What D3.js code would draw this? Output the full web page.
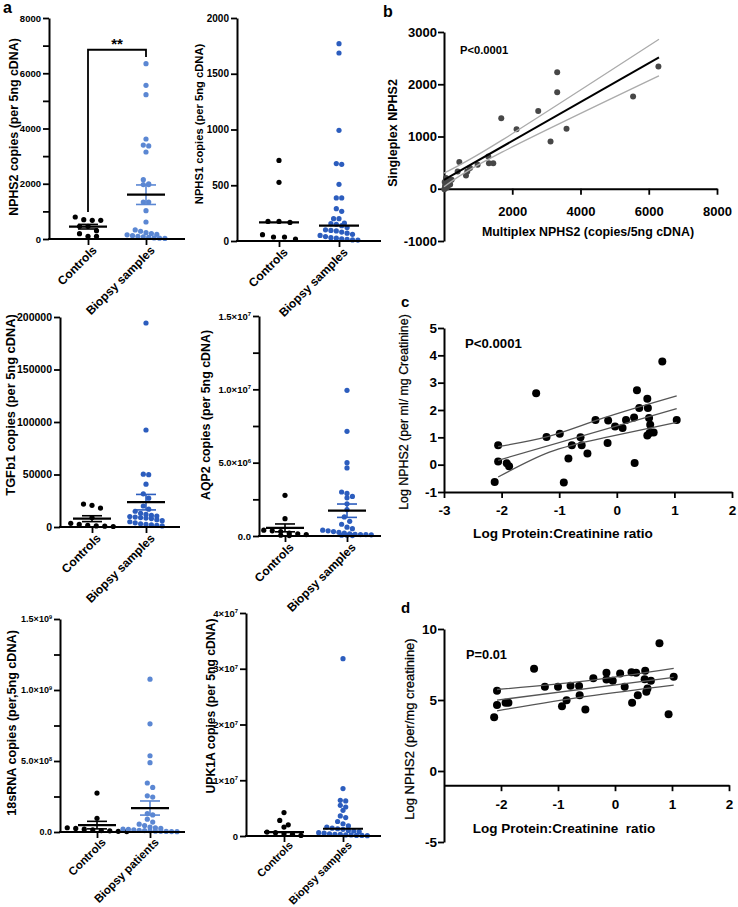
<!DOCTYPE html>
<html><head><meta charset="utf-8">
<script src="https://cdn.jsdelivr.net/npm/d3@7/dist/d3.min.js"></script>
<style>html,body{margin:0;padding:0;background:#fff;}svg{display:block;}</style>
</head><body>
<svg id="fig" width="738" height="907"></svg>
<script>
// ---------------- DATA ----------------
const groupLabels = ["Controls", "Biopsy samples"];
const groupLabels18s = ["Controls", "Biopsy patients"];

const nphs2Controls = [796, 676, 676, 700, 458, 458, 302, 193, 97, 97];
const nphs2Biopsy = [6347, 5563, 5225, 3620, 3400, 3370, 3150, 2148, 2000, 1970, 1970, 1340, 1340, 1025, 615, 330, 280, 230, 200, 170, 150, 120, 100, 80, 60, 40, 30, 20];
const nphs2Ticks = [0, 1000, 2000, 3000, 4000, 5000, 6000, 7000, 8000];
const nphs2Labels = [0, 2000, 4000, 6000, 8000];
const nphs2Bracket = [6850, 980, 6590]; // top, left end, right end
const nphs2Sig = "**";

const nphs1Controls = [723, 526, 176, 176, 167, 57, 36, 36, 18];
const nphs1Biopsy = [1770, 1686, 993, 694, 688, 508, 386, 386, 290, 266, 200, 200, 160, 155, 150, 137, 120, 100, 95, 90, 80, 70, 60, 50, 40, 30, 25, 20, 15, 10, 8];
const nphs1Ticks = [0, 500, 1000, 1500, 2000];

const tgfb1Controls = [21800, 20600, 18000, 9000, 3500, 2500, 1500, 1000, 800, 500];
const tgfb1Biopsy = [194300, 92400, 50300, 49800, 40800, 31600, 27500, 20000, 17000, 15000, 13000, 12000, 11000, 10500, 10000, 9500, 9000, 8500, 8000, 7000, 6000, 5000, 4000, 3000, 2500, 2000, 1500, 1000];
const tgfb1Ticks = [0, 50000, 100000, 150000, 200000];

const aqp2Controls = [2.77e6, 1.18e6, 0.4e6, 0.35e6, 0.3e6, 0.2e6, 0.15e6, 0.1e6, 0.05e6, 0.03e6];
const aqp2Biopsy = [9.93e6, 7.14e6, 5.0e6, 4.64e6, 3.0e6, 2.9e6, 2.7e6, 2.6e6, 2.2e6, 1.8e6, 1.3e6, 1.0e6, 0.8e6, 0.6e6, 0.5e6, 0.4e6, 0.35e6, 0.3e6, 0.25e6, 0.2e6, 0.15e6, 0.12e6, 0.1e6, 0.1e6, 0.08e6, 0.05e6, 0.05e6, 0.03e6];
const aqp2Ticks = [0, 2.5e6, 5e6, 7.5e6, 1e7, 1.25e7, 1.5e7];
const aqp2Labels = [0, 5e6, 1e7, 1.5e7];

const rna18sControls = [2.74e8, 0.96e8, 0.3e8, 0.25e8, 0.2e8, 0.15e8, 0.1e8, 0.08e8, 0.05e8, 0.03e8];
const rna18sBiopsy = [1.076e9, 7.62e8, 5.37e8, 4.88e8, 3.45e8, 3.14e8, 2.55e8, 2.46e8, 1.3e8, 1.2e8, 0.9e8, 0.7e8, 0.55e8, 0.45e8, 0.35e8, 0.3e8, 0.25e8, 0.2e8, 0.18e8, 0.15e8, 0.12e8, 0.1e8, 0.08e8, 0.06e8, 0.05e8, 0.04e8, 0.03e8, 0.02e8];
const rna18sTicks = [0, 2.5e8, 5e8, 7.5e8, 1e9, 1.25e9, 1.5e9];
const rna18sLabels = [0, 5e8, 1e9, 1.5e9];

const upk1aControls = [4.2e6, 2.8e6, 2.0e6, 1.6e6, 0.7e6, 0.6e6, 0.4e6, 0.3e6, 0.1e6];
const upk1aBiopsy = [3.18e7, 8.5e6, 6.4e6, 6.3e6, 5.5e6, 5.2e6, 4.6e6, 3.6e6, 3.3e6, 2.6e6, 2.2e6, 1.8e6, 1.6e6, 1.4e6, 1.3e6, 1.2e6, 1.0e6, 0.9e6, 0.8e6, 0.6e6, 0.5e6, 0.4e6, 0.3e6, 0.3e6, 0.2e6, 0.2e6, 0.1e6, 0.1e6, 0.05e6];
const upk1aTicks = [0, 1e7, 2e7, 3e7, 4e7];

// Panel b
const bMultiplex = [6283, 5541, 3590, 3317, 3317, 3122, 2761, 2127, 1678, 1444, 1317, 1298, 985, 761, 683, 644, 449, 400, 224, 156, 98, 59, 40, 30, 80, 180, 20, 10, 120];
const bSingleplex = [2338, 1764, 1146, 2229, 1847, 904, 1490, 1140, 1350, 490, 490, 618, 459, 395, 331, 255, 510, 331, 172, 140, 108, 204, 76, 45, 20, 80, 130, -10, 60];
const bFit = [[0, 170], [6300, 2516]];
const bUpper = [[0, 300], [1700, 930], [6300, 2860]];
const bLower = [[0, 40], [1700, 700], [6300, 2160]];
const bTicksX = [2000, 4000, 6000, 8000];
const bTicksY = [-1000, 0, 1000, 2000, 3000];

// Panel c
const cLogPCR = [-2.12, -2.06, -2.06, -1.91, -1.87, -1.40, -1.22, -0.99, -0.92, -0.84, -0.78, -0.63, -0.61, -0.51, -0.37, -0.15, -0.16, -0.03, 0.10, 0.16, 0.30, 0.35, 0.31, 0.39, 0.53, 0.54, 0.56, 0.58, 0.53, 0.57, 0.64, 0.79, 1.04];
const cLogNPHS2 = [-0.63, 0.71, 0.12, 0.05, -0.06, 2.61, 1.01, 1.13, -0.65, 0.23, 0.71, 1.0, 0.71, 0.41, 1.63, 1.62, 0.79, 1.40, 1.34, 1.63, 1.73, 2.72, 0.06, 2.07, 2.41, 2.07, 1.71, 1.46, 1.07, 1.16, 1.18, 3.77, 1.63];
const cFit = [[-2.06, 0.16], [1.04, 2.05]];
const cUpper = [[-2.06, 0.66], [-1.17, 1.04], [-0.23, 1.71], [1.04, 2.52]];
const cLower = [[-2.06, -0.45], [-1.17, 0.46], [-0.23, 0.98], [1.04, 1.55]];
const cTicksX = [-3, -2, -1, 0, 1, 2];
const cTicksY = [-1, 0, 1, 2, 3, 4, 5];

// Panel d
const dLogPCR = [-2.12, -2.07, -2.07, -1.92, -1.87, -1.42, -1.23, -1.0, -0.93, -0.85, -0.78, -0.63, -0.62, -0.52, -0.38, -0.15, -0.15, -0.04, 0.09, 0.17, 0.30, 0.29, 0.37, 0.40, 0.53, 0.52, 0.55, 0.57, 0.63, 0.78, 0.94, 1.03];
const dLogNPHS2 = [3.79, 5.65, 4.64, 4.8, 4.8, 7.2, 5.93, 5.93, 4.56, 4.99, 6.0, 5.98, 5.34, 4.33, 6.54, 6.92, 6.45, 6.35, 6.87, 5.93, 4.8, 6.96, 6.92, 5.34, 7.06, 6.47, 5.58, 5.81, 6.35, 8.99, 4.0, 6.64];
const dFit = [[-2.07, 4.99], [1.03, 6.59]];
const dUpper = [[-2.07, 5.74], [-0.5, 6.35], [1.03, 7.22]];
const dLower = [[-2.07, 4.24], [-0.5, 5.25], [1.03, 6.05]];
const dTicksX = [-2, -1, 0, 1, 2];
const dTicksY = [-5, 0, 5, 10];

// ---------------- DRAWING ----------------
const svg = d3.select("#fig");
svg.append("rect").attr("width", 738).attr("height", 907).attr("fill", "#fff");
const FONT = "'Liberation Sans', Arial, Helvetica, sans-serif";
const LIGHT = "#5b87d3", DARK = "#2c5dbe";

function txt(x, y, s, o = {}) {
  const t = svg.append("text").attr("x", x).attr("y", y).text(s)
    .attr("font-family", FONT).attr("font-size", o.fs || 12)
    .attr("font-weight", o.fw || "bold").attr("fill", "#000")
    .attr("text-anchor", o.anchor || "start");
  if (o.rot != null) t.attr("transform", `rotate(${o.rot},${x},${y})`);
  if (o.db) t.attr("dominant-baseline", o.db);
  return t;
}

function styleAxis(g, fs) {
  g.attr("font-family", FONT).attr("font-size", fs).attr("font-weight", "bold");
  g.select(".domain").attr("stroke", "#000").attr("stroke-width", 2);
  g.selectAll(".tick line").attr("stroke", "#000").attr("stroke-width", 1.8);
  g.selectAll(".tick text").attr("fill", "#000");
}

function fmtFactory(kind, labeled) {
  const set = new Set(labeled);
  return d => {
    if (!set.has(d)) return null;
    if (kind === "int") return String(d);
    if (d === 0) return kind === "sci1" ? "0.0" : "0";
    const e = Math.floor(Math.log10(d) + 1e-9);
    const m = d / Math.pow(10, e);
    return [(kind === "sci1" ? m.toFixed(1) : String(Math.round(m))) + "×10", String(e)];
  };
}

function writeLabels(sel, fmt) {
  sel.each(function (d) {
    const t = d3.select(this);
    t.text(null);
    const r = fmt(d);
    if (r == null) return;
    if (Array.isArray(r)) {
      t.append("tspan").text(r[0]);
      t.append("tspan").attr("font-size", "0.62em").attr("dy", "-0.6em").text(r[1]);
    } else t.text(r);
  });
}

function swarm(vals, y, cx, sp, dia) {
  const pts = vals.map(v => ({ v, py: y(v) })).sort((a, b) => a.py - b.py);
  const rows = [];
  for (const p of pts) {
    const r = rows[rows.length - 1];
    if (r && p.py - r[0].py < dia) r.push(p); else rows.push([p]);
  }
  rows.forEach(r => r.forEach((p, i) => { p.px = cx + (i - (r.length - 1) / 2) * sp; }));
  return pts;
}

function dotPanel(p) {
  const g = svg.append("g");
  const y = d3.scaleLinear().domain([0, p.ticks[p.ticks.length - 1]]).range([p.base, p.top]);
  const x = d3.scaleOrdinal().domain(p.cats).range(p.cx);
  const groups = [
    { vals: p.ctrl, color: "#000", cx: x(p.cats[0]), sp: p.spC || 8.5 },
    { vals: p.bio, color: p.color, cx: x(p.cats[1]), sp: 5.4 }
  ];
  groups.forEach(gr => {
    const pts = swarm(gr.vals, y, gr.cx, gr.sp, 4.8);
    g.append("g").selectAll("circle").data(pts).join("circle")
      .attr("cx", d => d.px).attr("cy", d => d.py).attr("r", 2.6).attr("fill", gr.color);
  });
  groups.forEach(gr => {
    if (p.summary === "mean") {
      const m = d3.mean(gr.vals), s = d3.deviation(gr.vals) / Math.sqrt(gr.vals.length);
      const sg = g.append("g").attr("stroke", gr.color).attr("stroke-width", 1.6);
      sg.append("line").attr("x1", gr.cx).attr("x2", gr.cx).attr("y1", y(m - s)).attr("y2", y(m + s));
      [m - s, m + s].forEach(v => sg.append("line").attr("x1", gr.cx - 10).attr("x2", gr.cx + 10).attr("y1", y(v)).attr("y2", y(v)));
      g.append("line").attr("x1", gr.cx - 19).attr("x2", gr.cx + 19).attr("y1", y(m)).attr("y2", y(m)).attr("stroke", "#000").attr("stroke-width", 2.2);
    } else {
      const md = d3.median(gr.vals);
      g.append("line").attr("x1", gr.cx - 20).attr("x2", gr.cx + 20).attr("y1", y(md)).attr("y2", y(md)).attr("stroke", "#000").attr("stroke-width", 2.2);
    }
  });
  // y axis
  const yg = g.append("g").attr("transform", `translate(${p.ax},0)`)
    .call(d3.axisLeft(y).tickValues(p.ticks).tickSize(6).tickSizeOuter(0));
  styleAxis(yg, p.fs);
  writeLabels(yg.selectAll(".tick text").attr("x", -8), fmtFactory(p.fmt, p.labels));
  // x axis
  const xg = g.append("g").attr("transform", `translate(0,${p.base})`)
    .call(d3.axisBottom(x).tickSize(6).tickSizeOuter(0));
  styleAxis(xg, p.cfs || 12);
  xg.select(".domain").attr("d", `M${p.ax - 1},0H${p.right}`);
  xg.selectAll(".tick text").attr("x", 0).attr("y", 0).attr("dy", 0)
    .attr("text-anchor", "end").attr("transform", `translate(9,${p.cdy || 12}) rotate(-45)`);
  // y label
  txt(p.lx, p.ly, p.label, { fs: p.lfs, anchor: "middle", rot: -90, db: "central" });
  return { g, y, x };
}

// Panel a1: NPHS2
const a1 = dotPanel({ ctrl: nphs2Controls, bio: nphs2Biopsy, cats: groupLabels, ticks: nphs2Ticks, labels: nphs2Labels, fmt: "int",
  label: "NPHS2 copies (per 5ng cDNA)", ax: 49, top: 18, base: 239, right: 185, cx: [88, 146], lx: 14, ly: 127, fs: 9.5, lfs: 12.4, color: LIGHT, summary: "mean" });
{
  const y = a1.y, xl = a1.x(groupLabels[0]), xr = a1.x(groupLabels[1]);
  a1.g.append("path").attr("fill", "none").attr("stroke", "#000").attr("stroke-width", 1.8)
    .attr("d", `M${xl},${y(nphs2Bracket[1])}V${y(nphs2Bracket[0])}H${xr}V${y(nphs2Bracket[2])}`);
  txt((xl + xr) / 2, y(nphs2Bracket[0]) - 1, nphs2Sig, { fs: 15, anchor: "middle" });
}
// Panel a2: NPHS1
dotPanel({ ctrl: nphs1Controls, bio: nphs1Biopsy, cats: groupLabels, ticks: nphs1Ticks, labels: nphs1Ticks, fmt: "int",
  label: "NPHS1 copies (per 5ng cDNA)", ax: 237, top: 18, base: 241, right: 381, cx: [279, 339], lx: 199, ly: 124, fs: 10, lfs: 11.2, color: DARK, summary: "median", spC: 11 });
// Panel a3: TGFb1
dotPanel({ ctrl: tgfb1Controls, bio: tgfb1Biopsy, cats: groupLabels, ticks: tgfb1Ticks, labels: tgfb1Ticks, fmt: "int",
  label: "TGFb1 copies (per 5ng cDNA)", ax: 60, top: 317, base: 527, right: 180, cx: [92, 146], lx: 10, ly: 405, fs: 10.5, lfs: 12.8, color: DARK, summary: "mean" });
// Panel a4: AQP2
dotPanel({ ctrl: aqp2Controls, bio: aqp2Biopsy, cats: groupLabels, ticks: aqp2Ticks, labels: aqp2Labels, fmt: "sci1",
  label: "AQP2 copies (per 5ng cDNA)", ax: 259, top: 316, base: 536, right: 381, cx: [285, 347], lx: 206, ly: 415, fs: 9.5, lfs: 12.4, color: DARK, summary: "mean" });
// Panel a5: 18sRNA
dotPanel({ ctrl: rna18sControls, bio: rna18sBiopsy, cats: groupLabels18s, ticks: rna18sTicks, labels: rna18sLabels, fmt: "sci1",
  label: "18sRNA copies (per,5ng cDNA)", ax: 60, top: 619, base: 832, right: 185, cx: [97, 150], lx: 12, ly: 723, fs: 9, lfs: 12.6, color: LIGHT, summary: "mean", cfs: 11.5, cdy: 11 });
// Panel a6: UPK1A
dotPanel({ ctrl: upk1aControls, bio: upk1aBiopsy, cats: groupLabels, ticks: upk1aTicks, labels: upk1aTicks, fmt: "sci0",
  label: "UPK1A copies (per 5ng cDNA)", ax: 246, top: 613, base: 836, right: 381, cx: [284, 343], lx: 211, ly: 706, fs: 9.5, lfs: 12.2, color: DARK, summary: "median", cfs: 11, cdy: 10 });

txt(3, 13, "a", { fs: 16 });

// ---------- scatter panels ----------
function scatterPanel(o) {
  const g = svg.append("g");
  const x = d3.scaleLinear().domain(o.xd).range(o.xr);
  const y = d3.scaleLinear().domain(o.yd).range(o.yr);
  const line = d3.line().x(d => x(d[0])).y(d => y(d[1])).curve(d3.curveNatural);
  const yg = g.append("g").attr("transform", `translate(${o.xr[0]},0)`)
    .call(d3.axisLeft(y).tickValues(o.ty).tickSize(6).tickSizeOuter(0).tickFormat(d => String(d)));
  styleAxis(yg, o.fs);
  yg.selectAll(".tick text").attr("x", -7);
  const xg = g.append("g").attr("transform", `translate(0,${y(o.xAxisAt)})`)
    .call(d3.axisBottom(x).tickValues(o.tx).tickSize(6).tickSizeOuter(0).tickFormat(d => String(d)));
  styleAxis(xg, o.fs);
  xg.selectAll(".tick text").attr("y", o.txOff).attr("dy", "0.35em");
  g.append("g").selectAll("circle").data(o.px.map((v, i) => [v, o.py[i]])).join("circle")
    .attr("cx", d => x(d[0])).attr("cy", d => y(d[1])).attr("r", o.r).attr("fill", o.pc);
  g.append("path").attr("d", line(o.up)).attr("fill", "none").attr("stroke", o.bandColor).attr("stroke-width", o.bandW);
  g.append("path").attr("d", line(o.lo)).attr("fill", "none").attr("stroke", o.bandColor).attr("stroke-width", o.bandW);
  g.append("path").attr("d", line(o.fit)).attr("fill", "none").attr("stroke", o.fitColor).attr("stroke-width", o.fitW);
  return { x, y };
}

// Panel b
scatterPanel({ xd: [0, 8000], xr: [444, 717], yd: [-1000, 3000], yr: [241, 32], xAxisAt: 0,
  tx: bTicksX, ty: bTicksY, fs: 13, txOff: 23, px: bMultiplex, py: bSingleplex, r: 3, pc: "#474747",
  fit: bFit, up: bUpper, lo: bLower, bandColor: "#ababab", bandW: 1.3, fitColor: "#000", fitW: 2 });
txt(383, 17, "b", { fs: 16 });
txt(460, 50, "P<0.0001", { fs: 11.2, db: "central" });
txt(393, 133, "Singleplex NPHS2", { fs: 12.5, anchor: "middle", rot: -90, db: "central" });
txt(588, 232, "Multiplex NPHS2 (copies/5ng cDNA)", { fs: 12.4, anchor: "middle", db: "central" });

// Panel c
scatterPanel({ xd: [-3, 2], xr: [444, 732], yd: [-1, 5], yr: [492, 328], xAxisAt: -1,
  tx: cTicksX, ty: cTicksY, fs: 13.5, txOff: 18, px: cLogPCR, py: cLogNPHS2, r: 4, pc: "#000",
  fit: cFit, up: cUpper, lo: cLower, bandColor: "#555", bandW: 1.3, fitColor: "#555", fitW: 1.3 });
txt(401, 307, "c", { fs: 15 });
txt(465, 343, "P<0.0001", { fs: 13.2, db: "central" });
txt(404, 412, "Log NPHS2 (per ml/ mg Creatinine)", { fs: 12.4, fw: "normal", anchor: "middle", rot: -90, db: "central" }).attr("stroke", "#000").attr("stroke-width", 0.25);
txt(563, 533, "Log Protein:Creatinine ratio", { fs: 13.6, anchor: "middle", db: "central" });

// Panel d
scatterPanel({ xd: [-3, 2], xr: [444, 729], yd: [-5, 10], yr: [842, 629], xAxisAt: -1,
  tx: dTicksX, ty: dTicksY, fs: 13.5, txOff: 19, px: dLogPCR, py: dLogNPHS2, r: 4, pc: "#000",
  fit: dFit, up: dUpper, lo: dLower, bandColor: "#555", bandW: 1.3, fitColor: "#555", fitW: 1.3 });
txt(401, 613, "d", { fs: 15 });
txt(466, 654, "P=0.01", { fs: 12.8, db: "central" });
txt(409, 729, "Log NPHS2 (per/mg creatinine)", { fs: 13, fw: "normal", anchor: "middle", rot: -90, db: "central" }).attr("stroke", "#000").attr("stroke-width", 0.25);
txt(564, 828, "Log Protein:Creatinine  ratio", { fs: 13.5, anchor: "middle", db: "central" }).style("white-space", "pre");
</script>
</body></html>
